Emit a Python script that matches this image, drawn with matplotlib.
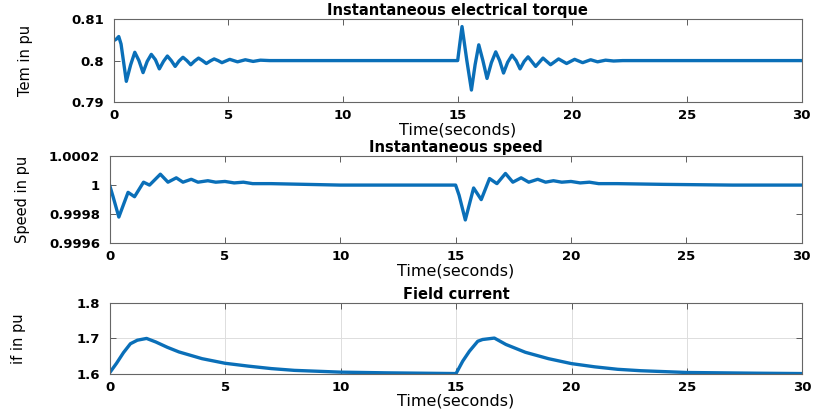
import numpy as np
import matplotlib
matplotlib.use('Agg')
import matplotlib.pyplot as plt

# torque (pu): two disturbances at t=0 and t=15 s
tem_t = [0, 0.12, 0.22, 0.32, 0.55, 0.74, 0.92, 1.1, 1.28, 1.46, 1.64, 1.82, 1.99, 2.17,
         2.34, 2.51, 2.68, 2.85, 3.02, 3.19, 3.36, 3.53, 3.70, 3.87, 4.04, 4.21, 4.38,
         4.55, 4.72, 5.06, 5.40, 5.74, 6.08, 6.40, 6.8,
         15.0, 15.08, 15.19, 15.4, 15.6, 15.76, 15.92, 16.1, 16.28, 16.47, 16.66, 16.83,
         17.0, 17.18, 17.37, 17.55, 17.72, 17.9, 18.07, 18.4, 18.72, 19.05, 19.4, 19.75,
         20.1, 20.45, 20.8, 21.1, 21.45, 21.8, 22.2, 30]
tem_v = [0.8048, 0.8052, 0.8058, 0.8040, 0.7950, 0.7990, 0.8020, 0.8000, 0.7971, 0.7998,
         0.8015, 0.8002, 0.7980, 0.7998, 0.8011, 0.8000, 0.7986, 0.7999, 0.8008, 0.8000,
         0.7990, 0.7999, 0.8006, 0.8000, 0.7993, 0.7999, 0.8004, 0.8000, 0.7995,
         0.8003, 0.7997, 0.8002, 0.7998, 0.8001, 0.8,
         0.8, 0.8035, 0.8082, 0.8000, 0.7929, 0.7990, 0.8038, 0.8000, 0.7957, 0.7995,
         0.8021, 0.8000, 0.7970, 0.7996, 0.8013, 0.8000, 0.7980, 0.7998, 0.8009, 0.7986,
         0.8006, 0.7990, 0.8004, 0.7993, 0.8003, 0.7995, 0.8002, 0.7997, 0.8001, 0.7999,
         0.8, 0.8]

# rotor speed (pu)
spd_t = [0, 0.15, 0.4, 0.8, 1.08, 1.47, 1.73, 2.2, 2.53, 2.89, 3.18, 3.54, 3.83, 4.26,
         4.6, 5.0, 5.4, 5.8, 6.2, 7.0, 8.5, 10, 12, 15.0,
         15.15, 15.42, 15.78, 16.11, 16.47, 16.79, 17.16, 17.48, 17.84, 18.17, 18.56,
         18.9, 19.24, 19.6, 20.0, 20.4, 20.8, 21.2, 22.0, 24.0, 27.0, 30]
spd_v = [1.0, 0.99992, 0.99978, 0.99995, 0.99992, 1.00002, 1.00000, 1.000075, 1.00002,
         1.00005, 1.00002, 1.00004, 1.00002, 1.00003, 1.00002, 1.000025, 1.000015,
         1.00002, 1.00001, 1.00001, 1.000005, 1.0, 1.0, 1.0,
         0.99993, 0.99976, 0.99998, 0.99990, 1.000045, 1.00001, 1.00008, 1.00002,
         1.00005, 1.00002, 1.00004, 1.00002, 1.00003, 1.00002, 1.000025, 1.000015,
         1.00002, 1.00001, 1.00001, 1.000005, 1.0, 1.0]

# field current (pu)
if_t = [0, 0.3, 0.6, 0.9, 1.2, 1.6, 2.0, 2.5, 3.0, 4.0, 5.0, 6.0, 7.0, 8.0, 10.0, 12.0, 15.0,
        15.29, 15.58, 15.94, 16.15, 16.66, 17.16, 18.0, 19.0, 20.0, 21.0, 22.0, 23.0,
        25.0, 28.0, 30.0]
if_v = [1.603, 1.630, 1.660, 1.685, 1.695, 1.700, 1.690, 1.675, 1.662, 1.643, 1.630,
        1.622, 1.615, 1.610, 1.605, 1.603, 1.601,
        1.636, 1.664, 1.692, 1.697, 1.701, 1.683, 1.661, 1.643, 1.629, 1.620, 1.613,
        1.609, 1.604, 1.602, 1.601]

line_color = '#0a6fb8'
tick_font = dict(family='DejaVu Sans', weight='bold', size=9.5)

fig = plt.figure(figsize=(8.18, 4.15), dpi=100)

panels = [
    dict(pos=[0.139, 0.754, 0.841, 0.200], t=tem_t, v=tem_v, ylim=(0.79, 0.81),
         yticks=[0.79, 0.8, 0.81], ylabels=['0.79', '0.8', '0.81'],
         title='Instantaneous electrical torque', ylabel='Tem in pu', grid=False),
    dict(pos=[0.134, 0.414, 0.846, 0.210], t=spd_t, v=spd_v, ylim=(0.9996, 1.0002),
         yticks=[0.9996, 0.9998, 1.0, 1.0002], ylabels=['0.9996', '0.9998', '1', '1.0002'],
         title='Instantaneous speed', ylabel='Speed in pu', grid=False),
    dict(pos=[0.134, 0.099, 0.847, 0.171], t=if_t, v=if_v, ylim=(1.6, 1.8),
         yticks=[1.6, 1.7, 1.8], ylabels=['1.6', '1.7', '1.8'],
         title='Field current', ylabel='if in pu', grid=True),
]

for p in panels:
    ax = fig.add_axes(p['pos'])
    ax.plot(p['t'], p['v'], color=line_color, lw=2.4, solid_joinstyle='round')
    ax.set_xlim(0, 30)
    ax.set_ylim(*p['ylim'])
    ax.set_xticks([0, 5, 10, 15, 20, 25, 30])
    ax.set_xticklabels(['0', '5', '10', '15', '20', '25', '30'], fontdict=tick_font)
    ax.set_yticks(p['yticks'])
    ax.set_yticklabels(p['ylabels'], fontdict=tick_font)
    ax.tick_params(direction='in', top=True, right=True, length=4, width=0.6,
                   colors='#444444', labelcolor='black')
    ax.tick_params(axis='x', pad=5)
    ax.tick_params(axis='y', pad=7)
    for s in ax.spines.values():
        s.set_color('#666666')
        s.set_linewidth(0.8)
    if p['grid']:
        ax.grid(True, color='#dddddd', lw=0.7)
    ax.set_title(p['title'], fontsize=10.5, fontweight='bold', pad=3)
    ax.set_xlabel('Time(seconds)', fontsize=11.5, labelpad=0)
    ax.set_ylabel(p['ylabel'], fontsize=10.5,
                  family=['Liberation Sans Narrow', 'DejaVu Sans'])

fig.axes[0].yaxis.set_label_coords(-0.118, 0.5)
fig.axes[1].yaxis.set_label_coords(-0.115, 0.5)
fig.axes[2].yaxis.set_label_coords(-0.12, 0.5)

fig.savefig('out.png', dpi=100)
